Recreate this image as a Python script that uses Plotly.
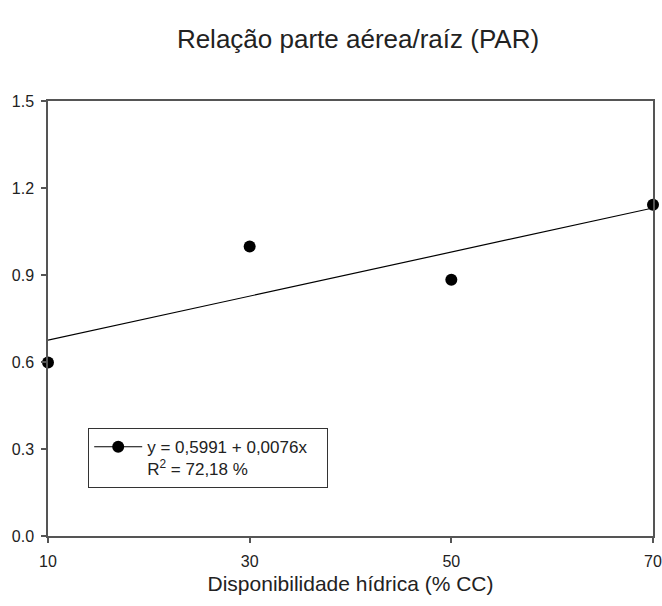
import plotly.graph_objects as go

x_vals = [10, 30, 50, 70]
y_vals = [0.598, 0.998, 0.884, 1.142]
intercept = 0.5991
slope = 0.0076
x_ticks = [10, 30, 50, 70]
y_ticks = [0.0, 0.3, 0.6, 0.9, 1.2, 1.5]
legend_text = "y = 0,5991 + 0,0076x&nbsp;&nbsp;&nbsp;<br>R<sup>2</sup> = 72,18 %"

fit_x = [min(x_vals), max(x_vals)]
fit_y = [intercept + slope * v for v in fit_x]

fig = go.Figure()
fig.add_trace(go.Scatter(x=fit_x, y=fit_y, mode="lines",
                         line=dict(color="black", width=1.2), showlegend=False,
                         cliponaxis=False))
fig.add_trace(go.Scatter(x=x_vals, y=y_vals, mode="markers",
                         marker=dict(color="black", size=12), showlegend=False,
                         cliponaxis=False))
fig.add_trace(go.Scatter(x=[None], y=[None], mode="lines+markers",
                         line=dict(color="black", width=1.2),
                         marker=dict(color="black", size=12),
                         name=legend_text, showlegend=True))

axis_common = dict(showline=True, linecolor="#555555", linewidth=1.5, mirror=True,
                   ticks="outside", ticklen=5, tickcolor="#555555", tickwidth=1.5,
                   showgrid=False, zeroline=False, automargin=False,
                   tickfont=dict(family="Liberation Sans, Arial", size=16, color="#222222"))

fig.update_layout(
    width=662, height=606,
    margin=dict(l=48, r=9, t=101, b=70),
    paper_bgcolor="white", plot_bgcolor="white",
    font=dict(family="Liberation Sans, Arial", color="#222222"),
    title=dict(text="Relação parte aérea/raíz (PAR)", x=358 / 662, xanchor="center",
               y=1 - 39 / 606, yanchor="middle",
               font=dict(size=26, color="#222222")),
    xaxis=dict(range=[10, 70], tickvals=x_ticks, ticktext=[str(v) for v in x_ticks],
               ticklabelstandoff=5,
               title=dict(text="Disponibilidade hídrica (% CC)", font=dict(size=21), standoff=7),
               **axis_common),
    yaxis=dict(range=[0, 1.5], tickvals=y_ticks, ticktext=[f"{v:.1f}" for v in y_ticks],
               ticklabelstandoff=4,
               **axis_common),
    legend=dict(x=(88 - 48) / 605, y=(536 - 428) / 435, xanchor="left", yanchor="top",
                bordercolor="#333333", borderwidth=1.2, bgcolor="white",
                valign="top", itemwidth=48,
                font=dict(size=17, color="#222222")),
)

fig.write_html("out.html", config={"displayModeBar": False},
               post_script="document.body.style.margin='0px';")
